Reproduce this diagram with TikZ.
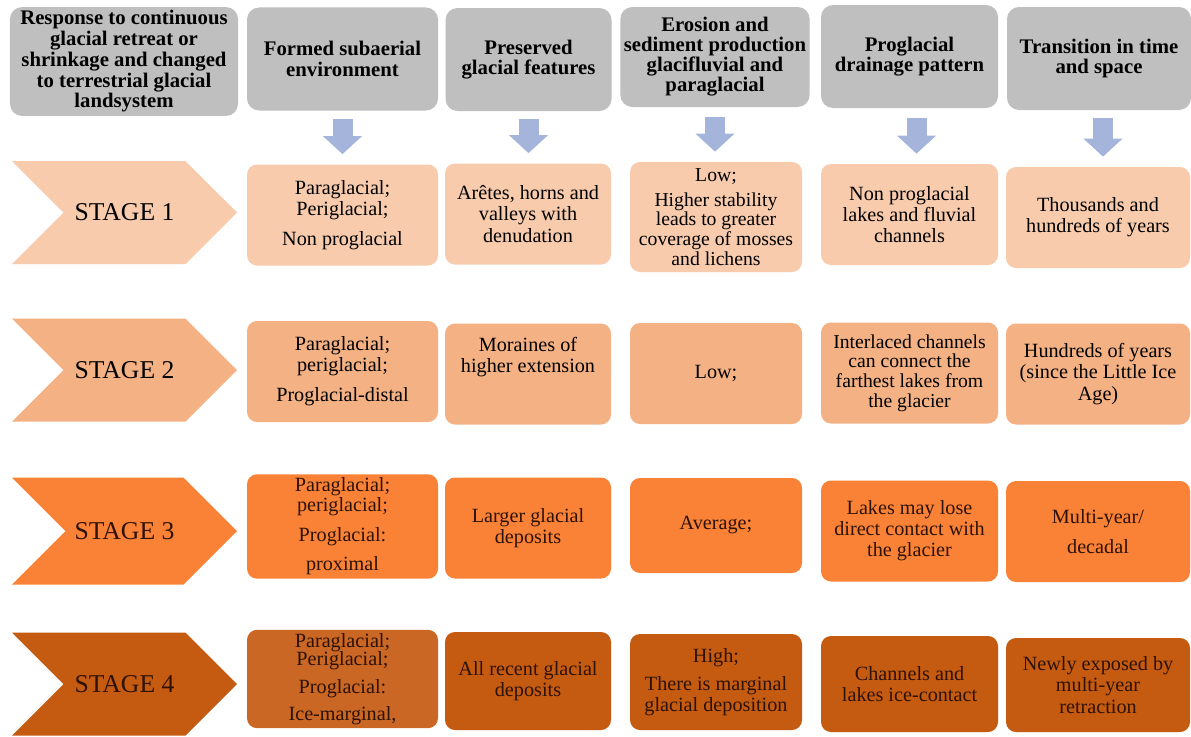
\documentclass[tikz,border=0pt]{standalone}
\usepackage{fontspec}
\setmainfont{Liberation Serif}
\usetikzlibrary{positioning,shapes.symbols,arrows.meta}

\definecolor{headgray}{RGB}{191,191,191}
\definecolor{arrowblue}{RGB}{164,180,218}
\definecolor{stageone}{RGB}{248,203,173}
\definecolor{stagetwo}{RGB}{244,177,131}
\definecolor{stagethree}{RGB}{250,130,54}
\definecolor{stagefour}{RGB}{197,90,17}
\definecolor{darktext}{RGB}{45,18,5}

\begin{document}
\begin{tikzpicture}[
    head/.style={fill=headgray, rounded corners=0.24cm, minimum height=2.06cm, align=center, inner sep=2pt, font=\fontsize{11.8}{11.8}\selectfont\bfseries},
    cell/.style={rounded corners=0.2cm, minimum height=2.02cm, align=center, inner sep=2pt, font=\fontsize{11.5}{12}\selectfont},
    stage/.style={signal, signal from=west, signal to=east, signal pointer angle=90, minimum width=4.5cm, minimum height=2.06cm, inner sep=0pt, font=\fontsize{14.6}{16}\selectfont},
    col1/.style={minimum width=3.82cm},
    col2/.style={minimum width=3.32cm},
    col3/.style={minimum width=3.44cm},
    col4/.style={minimum width=3.54cm},
    col5/.style={minimum width=3.68cm},
    fatarrow/.style={arrowblue, line width=0.4cm, -{Triangle[width=0.76cm, length=0.36cm]}}
]
    \useasboundingbox (0,0) rectangle (23.82,-14.72);

    % Headers
    \node[head, minimum width=4.56cm, minimum height=2.14cm] (resp) at (2.48,-1.23) {Response to continuous\\glacial retreat or\\shrinkage and changed\\to terrestrial glacial\\landsystem};
    \node[head, col1] (env) at (6.85,-1.18) {Formed subaerial\\environment};
    \node[head, col2] (feat) at (10.57,-1.19) {Preserved\\glacial features};
    \node[head, col3, minimum height=2cm, font=\fontsize{11.8}{11.4}\selectfont\bfseries] (eros) at (14.30,-1.14) {Erosion and\\sediment production\\glacifluvial and\\paraglacial};
    \node[head, col4] (drain) at (18.19,-1.13) {Proglacial\\drainage pattern};
    \node[head, col5] (time) at (21.98,-1.17) {Transition in time\\and space};

    % Stage 1
    \node[stage, fill=stageone] (st1) at (2.49,-4.25) {STAGE 1};
    \node[cell, col1, fill=stageone] (env1) at (6.85,-4.30) {Paraglacial;\\Periglacial;\\[5pt]Non proglacial};
    \node[cell, col2, fill=stageone] (feat1) at (10.56,-4.28) {Arêtes, horns and\\valleys with\\denudation};
    \node[cell, col3, fill=stageone, minimum height=2.2cm, font=\fontsize{11.2}{11.3}\selectfont] (eros1) at (14.32,-4.34) {Low;\\[3pt]Higher stability\\leads to greater\\coverage of mosses\\and lichens};
    \node[cell, col4, fill=stageone] (drain1) at (18.19,-4.29) {Non proglacial\\lakes and fluvial\\channels};
    \node[cell, col5, fill=stageone] (time1) at (21.96,-4.35) {Thousands and\\hundreds of years};

    % Stage 2
    \node[stage, fill=stagetwo] (st2) at (2.49,-7.40) {STAGE 2};
    \node[cell, col1, fill=stagetwo] (env2) at (6.85,-7.43) {Paraglacial;\\periglacial;\\[5pt]Proglacial-distal};
    \node[cell, col2, fill=stagetwo] (feat2) at (10.56,-7.48) {Moraines of\\higher extension\\[10pt]~};
    \node[cell, col3, fill=stagetwo] (eros2) at (14.32,-7.47) {Low;};
    \node[cell, col4, fill=stagetwo, font=\fontsize{11.2}{11.2}\selectfont] (drain2) at (18.19,-7.46) {Interlaced channels\\can connect the\\farthest lakes from\\the glacier};
    \node[cell, col5, fill=stagetwo] (time2) at (21.96,-7.48) {Hundreds of years\\(since the Little Ice\\Age)};

    % Stage 3
    \node[stage, fill=stagethree, text=darktext, minimum height=2.14cm] (st3) at (2.49,-10.62) {STAGE 3};
    \node[cell, col1, fill=stagethree, text=darktext, font=\fontsize{11.5}{11}\selectfont] (env3) at (6.85,-10.53) {Paraglacial;\\periglacial;\\[6pt]Proglacial:\\[6pt]proximal};
    \node[cell, col2, fill=stagethree, text=darktext] (feat3) at (10.56,-10.56) {Larger glacial\\deposits};
    \node[cell, col3, fill=stagethree, text=darktext, minimum height=1.9cm] (eros3) at (14.32,-10.51) {Average;};
    \node[cell, col4, fill=stagethree, text=darktext] (drain3) at (18.19,-10.62) {Lakes may lose\\direct contact with\\the glacier};
    \node[cell, col5, fill=stagethree, text=darktext] (time3) at (21.96,-10.63) {Multi-year/\\[5pt]decadal};

    % Stage 4
    \node[stage, fill=stagefour, text=darktext] (st4) at (2.49,-13.68) {STAGE 4};
    \node[cell, col1, fill=stagefour!92!white, text=darktext, minimum height=1.96cm, font=\fontsize{11.5}{10.5}\selectfont] (env4) at (6.85,-13.58) {Paraglacial;\\Periglacial;\\[5pt]Proglacial:\\[5pt]Ice-marginal,};
    \node[cell, col2, fill=stagefour, text=darktext, minimum height=1.96cm] (feat4) at (10.56,-13.62) {All recent glacial\\deposits};
    \node[cell, col3, fill=stagefour, text=darktext, minimum height=1.92cm] (eros4) at (14.32,-13.64) {High;\\[4pt]There is marginal\\glacial deposition};
    \node[cell, col4, fill=stagefour, text=darktext, minimum height=1.92cm] (drain4) at (18.19,-13.68) {Channels and\\lakes ice-contact};
    \node[cell, col5, fill=stagefour, text=darktext, minimum height=1.88cm] (time4) at (21.96,-13.70) {Newly exposed by\\multi-year\\retraction};

    % Arrows
    \draw[fatarrow] ([yshift=-0.16cm]env.south) -- ([yshift=0.2cm]env.south |- env1.north);
    \draw[fatarrow] ([yshift=-0.16cm]feat.south) -- ([yshift=0.2cm]feat.south |- feat1.north);
    \draw[fatarrow] ([yshift=-0.2cm]eros.south) -- ([yshift=0.2cm]eros.south |- eros1.north);
    \draw[fatarrow] ([xshift=0.14cm,yshift=-0.2cm]drain.south) -- ([xshift=0.14cm,yshift=0.2cm]drain.south |- drain1.north);
    \draw[fatarrow] ([xshift=0.08cm,yshift=-0.16cm]time.south) -- ([xshift=0.08cm,yshift=0.2cm]time.south |- time1.north);
\end{tikzpicture}
\end{document}
